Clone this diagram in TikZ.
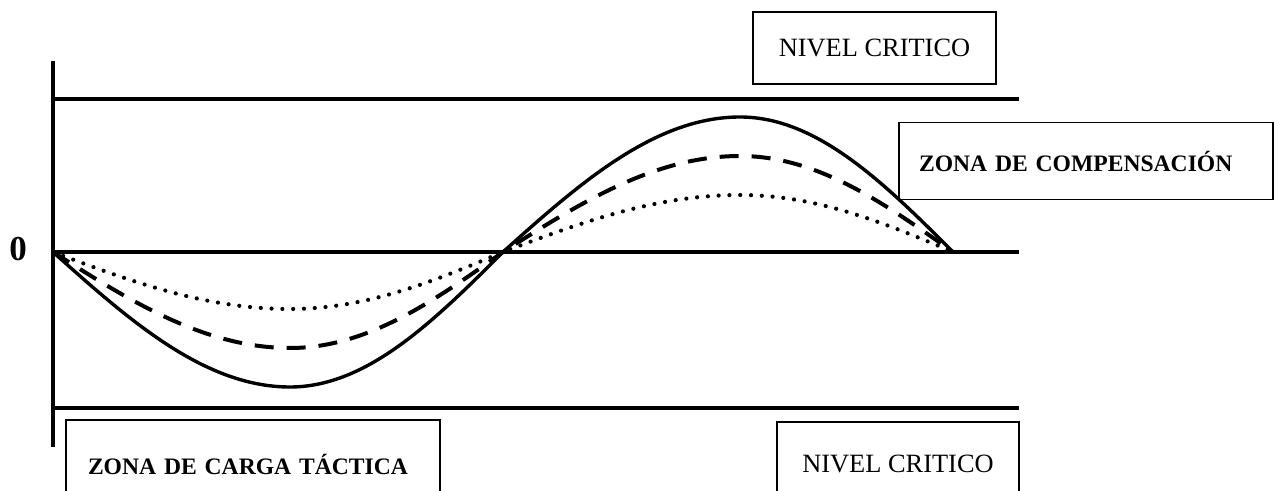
\documentclass[tikz,border=0pt]{standalone}
\usepackage{fontspec}
\setmainfont{Liberation Serif}
\usetikzlibrary{positioning}

\begin{document}
\begin{tikzpicture}[x=0.5pt, y=-0.5pt,
  nivel/.style={draw, line width=0.6pt, inner sep=0pt, font=\fontsize{13.2}{15}\selectfont},
  zona/.style={draw, line width=0.6pt, inner ysep=0pt, align=left, font=\bfseries\fontsize{11.8}{14}\selectfont},
  eje/.style={line width=2pt},
  solida/.style={line width=1.7pt},
  guiones/.style={line width=2pt, dash pattern=on 9.5pt off 6.5pt},
  puntos/.style={line width=2.1pt, line cap=round, dash pattern=on 0pt off 5.4pt}]
  \clip (0,0) rectangle (1278,491);

  % ejes y niveles
  \draw[eje] (53,61) -- (53,447);
  \draw[eje] (53,99) -- (1019,99);
  \draw[eje] (53,252) -- (1019,252);
  \draw[eje] (53,408) -- (1019,408);
  \node[font=\bfseries\fontsize{17.5}{19}\selectfont] (cero) at (18,249) {0};

  % las tres ondas, de mayor a menor amplitud
  \foreach \a/\s in {135/solida, 96/guiones, 57/puntos}
    \draw[\s] (53,252) .. controls (130,252+0.512*\a) and (205,252+\a) .. (290,252+\a)
      .. controls (367,252+\a) and (434,252+0.512*\a) .. (503,252)
      .. controls (580,252-0.512*\a) and (655,252-\a) .. (740,252-\a)
      .. controls (817,252-\a) and (884,252-0.512*\a) .. (953,252);

  % cuadros de texto
  \node[nivel, minimum width=121.5pt, minimum height=36pt] (critSup) at (874.5,48) {NIVEL CRITICO};
  \node[nivel, minimum width=121pt, minimum height=42pt] (critInf) at (898,464) {NIVEL CRITICO};
  \node[zona, inner xsep=10pt, text width=167pt, minimum height=38.5pt] (compensa) at (1086,161) {ZONA DE COMPENSACIÓN};
  \node[zona, inner xsep=11pt, text width=165pt, minimum height=44pt] (carga) at (253,464) {ZONA DE CARGA TÁCTICA};
\end{tikzpicture}
\end{document}
